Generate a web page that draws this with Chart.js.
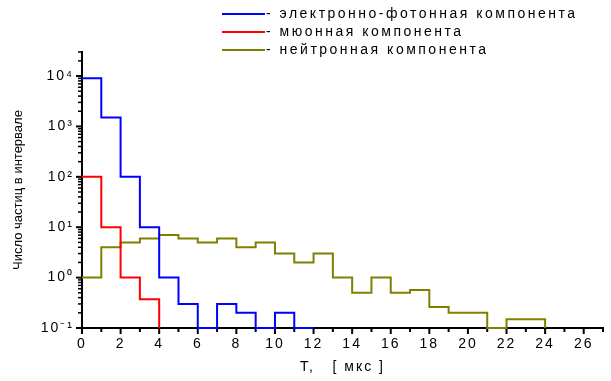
<!DOCTYPE html>
<html>
<head>
<meta charset="utf-8">
<script src="https://cdn.jsdelivr.net/npm/chart.js@4/dist/chart.umd.min.js"></script>
<style>
html,body{margin:0;padding:0;background:#fff;}
#wrap{width:611px;height:381px;}
</style>
</head>
<body>
<div id="wrap"><canvas id="c" width="611" height="381"></canvas></div>
<script>
// ---- data (bin i covers T in [i, i+1] mks; 0 = empty bin) ----
const seriesLabels = ['электронно-фотонная компонента', 'мюонная компонента', 'нейтронная компонента'];
const electronPhoton = [9000, 1500, 100, 10, 1, 0.3, 0, 0.3, 0.2, 0, 0.2, 0];
const muon = [100, 10, 1, 0.37];
const neutron = [1, 4, 5, 6, 7, 6, 5, 6, 4, 5, 3, 2, 3, 1, 0.5, 1, 0.5, 0.57, 0.26, 0.2, 0.2, 0, 0.15, 0.15];
const seriesColors = ['#0000ff', '#ff0000', '#808000'];
const xTickLabels = ['0', '2', '4', '6', '8', '10', '12', '14', '16', '18', '20', '22', '24', '26'];
const yDecades = [-1, 0, 1, 2, 3, 4];
const yTickLabels = ['10⁻¹', '10⁰', '10¹', '10²', '10³', '10⁴'];
const xTitle = 'T,   [ мкс ]';
const yTitle = 'Число частиц в интервале';
const X_MIN = 0, X_MAX = 27, Y_MIN = 0.1, Y_MAX = 30000;

// step histogram points built from the bin values
function histPoints(vals) {
  const pts = vals.map((v, i) => ({ x: i, y: v > 0 ? v : Y_MIN }));
  pts.push({ x: vals.length, y: Y_MIN });
  return pts;
}
const allSeries = [electronPhoton, muon, neutron];

const yTickValues = [];
yDecades.forEach(e => { for (let k = 1; k <= 9; k++) { const v = k * Math.pow(10, e); if (v <= Y_MAX * 1.0001) yTickValues.push(+v.toPrecision(6)); } });

const FONT = "'Liberation Sans', Arial, sans-serif";

const tickMarks = {
  id: 'tickMarks',
  afterUpdate(chart) {
    const y = chart.scales.y;
    if (y && !y._lsPatched) {
      const dt = y.drawTitle;
      y.drawTitle = function (...a) { const c = this.ctx; const o = c.letterSpacing; c.letterSpacing = '0px'; dt.apply(this, a); c.letterSpacing = o; };
      y._lsPatched = true;
    }
  },
  beforeDraw(chart) { chart.ctx.letterSpacing = '2px'; },
  beforeDatasetsDraw(chart) {
    const { ctx, chartArea: a, scales: { x, y } } = chart;
    ctx.save();
    ctx.strokeStyle = '#000';
    x.ticks.forEach(t => {
      const px = x.getPixelForValue(t.value);
      const major = Math.round(t.value) % 2 === 0;
      ctx.lineWidth = 2;
      ctx.beginPath(); ctx.moveTo(px, a.bottom); ctx.lineTo(px, a.bottom + (major ? 6 : 4)); ctx.stroke();
    });
    y.ticks.forEach(t => {
      const py = y.getPixelForValue(t.value);
      const lg = Math.log10(t.value);
      const major = Math.abs(lg - Math.round(lg)) < 1e-6;
      ctx.lineWidth = major ? 2 : 1.5;
      ctx.beginPath(); ctx.moveTo(a.left, py); ctx.lineTo(a.left - (major ? 6 : 4), py); ctx.stroke();
    });
    ctx.restore();
  },
  afterDraw(chart) {
    const ctx = chart.ctx;
    ctx.save();
    ctx.letterSpacing = '2.5px';
    ctx.font = '14px ' + FONT;
    ctx.textBaseline = 'middle';
    ctx.textAlign = 'left';
    chart.data.datasets.forEach((ds, i) => {
      const ry = 14 + i * 18;
      ctx.strokeStyle = ds.borderColor; ctx.lineWidth = 2;
      ctx.beginPath(); ctx.moveTo(222, ry); ctx.lineTo(265, ry); ctx.stroke();
      ctx.fillStyle = '#000';
      ctx.fillText('- ' + ds.label, 266, ry);
    });
    ctx.restore();
  }
};

new Chart(document.getElementById('c'), {
  type: 'line',
  data: {
    datasets: allSeries.map((vals, i) => ({
      label: seriesLabels[i],
      data: histPoints(vals),
      borderColor: seriesColors[i],
      backgroundColor: seriesColors[i],
      borderWidth: 2,
      pointRadius: 0,
      stepped: 'before',
      fill: false,
      clip: false,
      tension: 0
    }))
  },
  options: {
    responsive: false,
    devicePixelRatio: 1,
    animation: false,
    layout: { padding: { top: 52, right: 3, left: 0, bottom: 0 } },
    plugins: { legend: { display: false }, tooltip: { enabled: false } },
    scales: {
      x: {
        type: 'linear', min: X_MIN, max: X_MAX,
        grid: { display: false, drawTicks: false },
        border: { display: true, color: '#000', width: 2 },
        ticks: {
          stepSize: 1, autoSkip: false, maxRotation: 0, padding: 8, color: '#000',
          font: { family: FONT, size: 14 },
          callback: v => (Math.round(v) % 2 === 0 ? xTickLabels[Math.round(v) / 2] : '')
        },
        title: { display: true, text: xTitle, color: '#000', font: { family: FONT, size: 14 }, padding: { top: 0, bottom: 5 } },
        afterFit: s => { s.height = 53; }
      },
      y: {
        type: 'logarithmic', min: Y_MIN, max: Y_MAX,
        grid: { display: false, drawTicks: false },
        border: { display: true, color: '#000', width: 2 },
        afterBuildTicks: s => { s.ticks = yTickValues.map(v => ({ value: v })); },
        ticks: {
          autoSkip: false, padding: 8, color: '#000',
          font: { family: FONT, size: 14 },
          callback: v => {
            const lg = Math.log10(v);
            const r = Math.round(lg);
            if (Math.abs(lg - r) > 1e-6) return '';
            const idx = yDecades.indexOf(r);
            return idx >= 0 ? yTickLabels[idx] : '';
          }
        },
        title: { display: true, text: yTitle, color: '#000', font: { family: FONT, size: 13 }, padding: { top: 11, bottom: 0 } },
        afterFit: s => { s.width = 82; }
      }
    }
  },
  plugins: [tickMarks]
});
</script>
</body>
</html>
